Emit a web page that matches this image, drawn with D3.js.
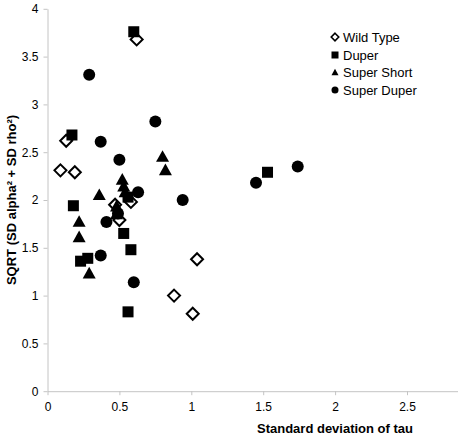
<!DOCTYPE html>
<html>
<head>
<meta charset="utf-8">
<script src="https://cdn.jsdelivr.net/npm/d3@7"></script>
<style>
  html, body { margin: 0; padding: 0; background: #fff; }
  svg { display: block; font-family: "Liberation Sans", Arial, sans-serif; }
</style>
</head>
<body>
<svg id="chart" width="458" height="436"></svg>
<script>
// ---- Data ----
const seriesNames = ["Wild Type", "Duper", "Super Short", "Super Duper"];
const wildTypeX = [0.62, 0.13, 0.09, 0.19, 0.47, 0.50, 0.58, 1.04, 0.88, 1.01];
const wildTypeY = [3.68, 2.62, 2.31, 2.29, 1.95, 1.79, 1.98, 1.38, 1.00, 0.81];
const duperX = [0.60, 0.17, 0.18, 0.23, 0.28, 0.53, 0.58, 0.56, 0.56, 1.53];
const duperY = [3.76, 2.68, 1.94, 1.36, 1.39, 1.65, 1.48, 0.83, 2.03, 2.29];
const superShortX = [0.80, 0.82, 0.36, 0.22, 0.22, 0.29, 0.52, 0.53, 0.54, 0.48, 0.48];
const superShortY = [2.45, 2.31, 2.05, 1.77, 1.61, 1.23, 2.21, 2.14, 2.08, 1.93, 1.85];
const superDuperX = [0.29, 0.75, 0.37, 0.50, 0.63, 0.94, 0.41, 0.37, 0.60, 0.49, 1.45, 1.74];
const superDuperY = [3.31, 2.82, 2.61, 2.42, 2.08, 2.00, 1.77, 1.42, 1.14, 1.86, 2.18, 2.35];
const xTicks = [0, 0.5, 1, 1.5, 2, 2.5];
const yTicks = [0, 0.5, 1, 1.5, 2, 2.5, 3, 3.5, 4];
const xTitle = "Standard deviation of tau";
const yTitle = "SQRT (SD alpha² + SD rho²)";

const series = [
  { name: seriesNames[0], xs: wildTypeX, ys: wildTypeY, shape: "diamond" },
  { name: seriesNames[1], xs: duperX, ys: duperY, shape: "square" },
  { name: seriesNames[2], xs: superShortX, ys: superShortY, shape: "triangle" },
  { name: seriesNames[3], xs: superDuperX, ys: superDuperY, shape: "circle" }
];

// ---- Layout ----
const svg = d3.select("#chart");
const x0 = 47.5, xPerUnit = 143.8;
const yBottom = 391.2, yPerUnit = 95.6;
const x = d3.scaleLinear().domain([0, 3]).range([x0, x0 + 3 * xPerUnit]);
const y = d3.scaleLinear().domain([0, 4]).range([yBottom, yBottom - 4 * yPerUnit]);
const axisColor = "#c4c4c4";

// X axis
const xAxis = svg.append("g")
  .attr("transform", `translate(0,${yBottom})`)
  .call(d3.axisBottom(x).tickValues(xTicks).tickFormat(d3.format("")).tickSizeInner(4).tickSizeOuter(0));
xAxis.select(".domain").attr("stroke", axisColor);
xAxis.selectAll(".tick line").attr("stroke", axisColor);
xAxis.selectAll(".tick text").attr("fill", "#000").attr("font-size", 12)
  .attr("font-family", "Liberation Sans, Arial, sans-serif").attr("dy", "0").attr("y", 20);

// Y axis
const yAxis = svg.append("g")
  .attr("transform", `translate(${x0},0)`)
  .call(d3.axisLeft(y).tickValues(yTicks).tickFormat(d3.format("")).tickSizeInner(4).tickSizeOuter(0));
yAxis.select(".domain").attr("stroke", axisColor);
yAxis.selectAll(".tick line").attr("stroke", axisColor);
yAxis.selectAll(".tick text").attr("fill", "#000").attr("font-size", 12)
  .attr("font-family", "Liberation Sans, Arial, sans-serif").attr("x", -9);

// Titles
svg.append("text")
  .attr("x", 335).attr("y", 433)
  .attr("text-anchor", "middle")
  .attr("font-size", 13).attr("font-weight", "bold")
  .text(xTitle);
svg.append("text")
  .attr("transform", `translate(16,${(y(0) + y(4)) / 2}) rotate(-90)`)
  .attr("text-anchor", "middle")
  .attr("font-size", 13).attr("font-weight", "bold")
  .text(yTitle);

// ---- Markers ----
function drawMarker(g, shape, cx, cy, s) {
  if (shape === "diamond") {
    const r = s * 0.5;
    g.append("path")
      .attr("d", `M${cx},${cy - r}L${cx + r},${cy}L${cx},${cy + r}L${cx - r},${cy}Z`)
      .attr("fill", "#fff").attr("stroke", "#000").attr("stroke-width", s > 8 ? 2 : 1.6);
  } else if (shape === "square") {
    const h = s * 0.5;
    g.append("rect").attr("x", cx - h).attr("y", cy - h)
      .attr("width", s).attr("height", s).attr("fill", "#000");
  } else if (shape === "triangle") {
    const h = s * 0.5;
    g.append("path")
      .attr("d", `M${cx},${cy - h * 1.05}L${cx + h},${cy + h * 0.75}L${cx - h},${cy + h * 0.75}Z`)
      .attr("fill", "#000");
  } else {
    g.append("circle").attr("cx", cx).attr("cy", cy).attr("r", s * 0.5).attr("fill", "#000");
  }
}

const sizes = { diamond: 12, square: 11, triangle: 13, circle: 12 };
const plot = svg.append("g");
series.forEach(sr => {
  const g = plot.append("g").attr("class", "series");
  sr.xs.forEach((v, i) => drawMarker(g, sr.shape, x(v), y(sr.ys[i]), sizes[sr.shape]));
});

// ---- Legend ----
const legend = svg.append("g");
const legendY = [37, 55, 72.5, 90];
series.forEach((sr, i) => {
  const g = legend.append("g");
  drawMarker(g, sr.shape, 335, legendY[i], sr.shape === "diamond" ? 7.5 : 7);
  g.append("text").attr("x", 343).attr("y", legendY[i] + 4.7)
    .attr("font-size", 13).text(sr.name);
});
</script>
</body>
</html>
